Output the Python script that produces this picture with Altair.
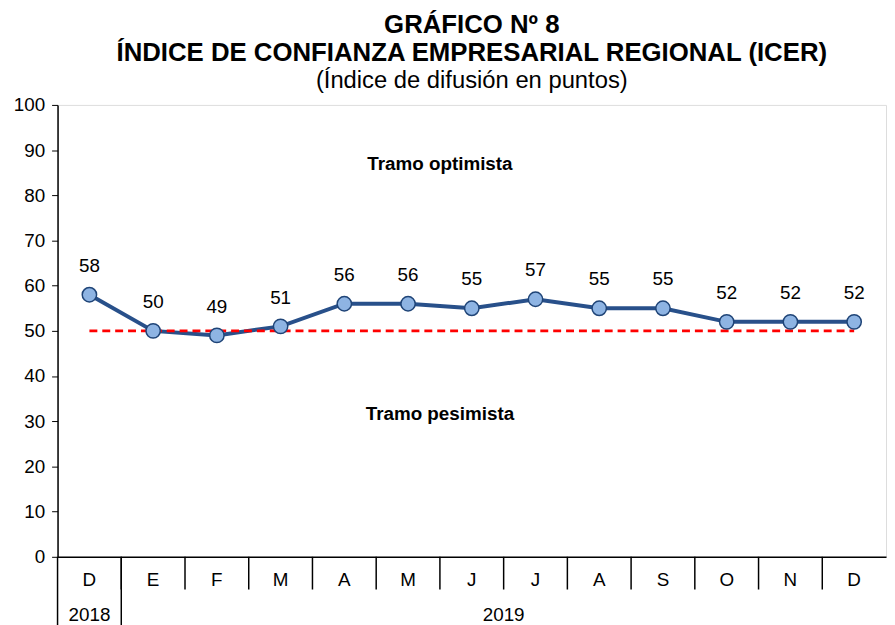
import altair as alt
import pandas as pd

months = ["D", "E", "F", "M", "A", "M", "J", "J", "A", "S", "O", "N", "D"]
icer = [58, 50, 49, 51, 56, 56, 55, 57, 55, 55, 52, 52, 52]
years = ["2018", "2019"]
year_start = [0, 1]
year_end = [1, 13]
threshold = 50
zones = ["Tramo optimista", "Tramo pesimista"]
zone_y = [87, 31.5]

FONT = "Liberation Sans"
W, H = 836, 456

df = pd.DataFrame({"pos": [i + 0.5 for i in range(len(months))], "month": months, "v": icer})
yrs = pd.DataFrame({"y0": year_start, "y1": year_end, "label": years,
                    "mid": [(a + b) / 2 for a, b in zip(year_start, year_end)]})
seps = pd.DataFrame({"s": list(range(1, len(months)))})
yseps = pd.DataFrame({"s": year_start})
zdf = pd.DataFrame({"label": zones, "y": zone_y, "x": [6.0, 6.0]})
thr = pd.DataFrame({"x0": [0.5], "x1": [len(months) - 0.5], "y": [threshold]})

xs = alt.Scale(domain=[0, len(months)], nice=False, zero=False)
ys = alt.Scale(domain=[0, 100], nice=False)

base = alt.Chart(df)

line = base.mark_line(color="#28508A", strokeWidth=4).encode(
    x=alt.X("pos:Q", scale=xs,
            axis=alt.Axis(labels=False, ticks=False, grid=False, title=None,
                          domainColor="black", domainWidth=1.5)),
    y=alt.Y("v:Q", scale=ys,
            axis=alt.Axis(values=list(range(0, 101, 10)), grid=False, title=None,
                          domainColor="black", domainWidth=1.5, tickColor="black",
                          tickSize=6, labelPadding=7, labelFont=FONT, labelFontSize=19,
                          labelColor="black")),
)

ref = alt.Chart(thr).mark_rule(color="#FF0000", strokeWidth=3, strokeDash=[8, 5]).encode(
    x=alt.X("x0:Q", scale=xs), x2="x1:Q", y=alt.Y("y:Q", scale=ys))

pts = base.mark_point(filled=True, fill="#8EB4E3", stroke="#1F4477", strokeWidth=1.5,
                      size=210, opacity=1, shape="circle").encode(
    x=alt.X("pos:Q", scale=xs), y=alt.Y("v:Q", scale=ys))

labels = base.mark_text(font=FONT, fontSize=19, dy=-29, color="black").encode(
    x=alt.X("pos:Q", scale=xs), y=alt.Y("v:Q", scale=ys), text="v:Q")

ztext = alt.Chart(zdf).mark_text(font=FONT, fontSize=19, fontWeight="bold", color="black").encode(
    x=alt.X("x:Q", scale=xs), y=alt.Y("y:Q", scale=ys), text="label:N")

msep = alt.Chart(seps).mark_rule(color="black", strokeWidth=1.5).encode(
    x=alt.X("s:Q", scale=xs), y=alt.value(H), y2=alt.value(H + 33))

ysep = alt.Chart(yseps).mark_rule(color="black", strokeWidth=1.5).encode(
    x=alt.X("s:Q", scale=xs), y=alt.value(H), y2=alt.value(H + 70))

mlab = base.mark_text(font=FONT, fontSize=19, color="black", baseline="middle").encode(
    x=alt.X("pos:Q", scale=xs), y=alt.value(H + 23), text="month:N")

ylab = alt.Chart(yrs).mark_text(font=FONT, fontSize=19, color="black", baseline="middle").encode(
    x=alt.X("mid:Q", scale=xs), y=alt.value(H + 59), text="label:N")

chart = alt.layer(line, ref, pts, labels, ztext, msep, ysep, mlab, ylab).properties(
    width=W, height=H,
    autosize=alt.AutoSizeParams(type="none"),
    padding={"left": 50, "top": 95, "right": 1, "bottom": 66},
    title=alt.TitleParams(
        text=["GRÁFICO Nº 8", "ÍNDICE DE CONFIANZA EMPRESARIAL REGIONAL (ICER)"],
        subtitle="(Índice de difusión en puntos)",
        font=FONT, fontSize=26, fontWeight="bold", color="black",
        subtitleFont=FONT, subtitleFontSize=24, subtitleColor="black",
        anchor="middle", offset=3, lineHeight=29, subtitlePadding=3,
    ),
).configure_view(stroke=None).configure(background="white")

chart.save("out.html", embed_options={"renderer": "svg", "actions": False})
